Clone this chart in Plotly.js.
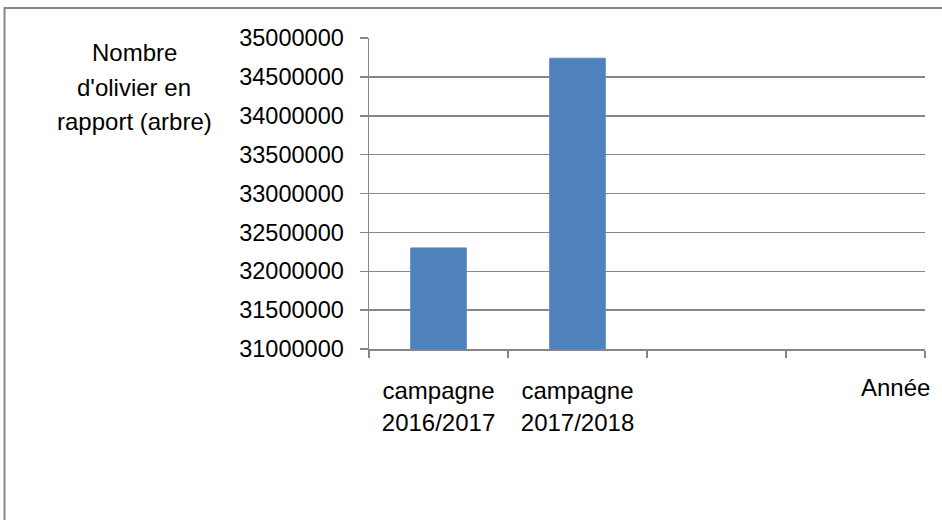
<!DOCTYPE html>
<html>
<head>
<meta charset="utf-8">
<script src="https://cdn.plot.ly/plotly-3.0.1.min.js"></script>
<style>
  html, body { margin: 0; padding: 0; background: #fff; }
  #chart { width: 942px; height: 520px; }
</style>
</head>
<body>
<div id="chart"></div>
<script>
// Data
const categories = ["campagne<br>2016/2017", "campagne<br>2017/2018", "cat3", "cat4"];
const tickLabels = ["campagne<br>2016/2017", "campagne<br>2017/2018", "", ""];
const values = [32300000, 34740000, null, null];
const yTitleLines = ["Nombre", "d'olivier en", "rapport (arbre)"];
const xTitle = "Année";

const FONT = "Liberation Sans, Arial, sans-serif";
const fs = 23.5;
const gray = "#868686";

const W = 942, H = 520;
const m = {l: 369, r: 17, t: 38, b: 171};
const pw = W - m.l - m.r, ph = H - m.t - m.b;
const px = x => (x - m.l) / pw;
const py = y => (H - m.b - y) / ph;

const trace = {
  type: "bar",
  x: categories,
  y: values,
  marker: {color: "#4F81BD", line: {color: "#5a8ac4", width: 1}},
  hoverinfo: "skip"
};

const annotations = yTitleLines.map((t, i) => ({
  text: t, xref: "paper", yref: "paper",
  x: px(134), y: py(53 + i * 34.5),
  xanchor: "center", yanchor: "middle", showarrow: false,
  font: {family: FONT, size: 24, color: "#000"}
}));
annotations.push({
  text: xTitle, xref: "paper", yref: "paper",
  x: px(895), y: py(387), xanchor: "center", yanchor: "middle",
  showarrow: false, font: {family: FONT, size: 24, color: "#000"}
});

const layout = {
  width: W, height: H,
  margin: m,
  paper_bgcolor: "#fff", plot_bgcolor: "#fff",
  showlegend: false,
  bargap: 0.6,
  font: {family: FONT, size: fs, color: "#000"},
  xaxis: {
    type: "category",
    categoryorder: "array", categoryarray: categories,
    tickvals: categories, ticktext: tickLabels,
    range: [-0.5, 3.5],
    tickson: "boundaries",
    ticks: "outside", ticklen: 7, tickcolor: gray, tickwidth: 1.5,
    showline: true, linecolor: gray, linewidth: 1.5,
    showgrid: false, zeroline: false,
    tickangle: 0,
    ticklabelstandoff: 20,
    tickfont: {family: FONT, size: 24, color: "#000"}
  },
  yaxis: {
    range: [31000000, 35000000],
    dtick: 500000, tick0: 31000000,
    tickformat: "d",
    ticks: "outside", ticklen: 8, tickcolor: gray, tickwidth: 1.5,
    showline: true, linecolor: gray, linewidth: 1.5,
    showgrid: true, gridcolor: gray, gridwidth: 1.5,
    zeroline: false,
    ticklabelstandoff: 11,
    tickfont: {family: FONT, size: fs, color: "#000"}
  },
  shapes: [{
    type: "path", xref: "paper", yref: "paper",
    path: `M ${px(4.5)} ${py(525)} L ${px(4.5)} ${py(8)} L ${px(945)} ${py(8)}`,
    line: {color: gray, width: 2}
  }],
  annotations: annotations
};

Plotly.newPlot("chart", [trace], layout, {staticPlot: true, displayModeBar: false});
</script>
</body>
</html>
